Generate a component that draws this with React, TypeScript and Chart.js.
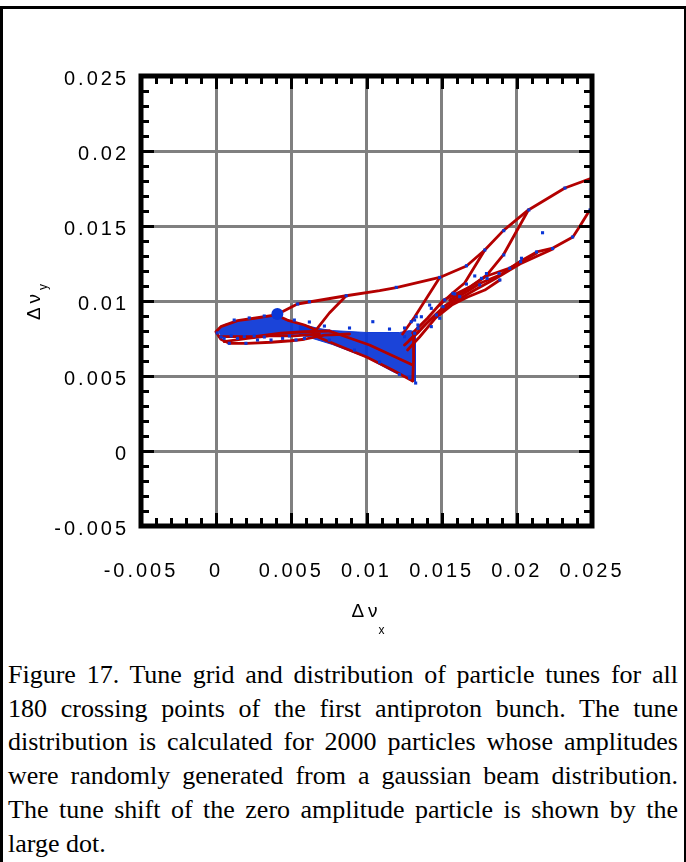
import { useEffect, useRef } from 'react';
import { Chart, registerables } from 'chart.js';
Chart.register(...registerables);

type P = [number, number];

const xTickLabels = ['-0.005', '0', '0.005', '0.01', '0.015', '0.02', '0.025'];
const yTickLabels = ['-0.005', '0', '0.005', '0.01', '0.015', '0.02', '0.025'];
const axisMin = -0.005;
const axisMax = 0.025;
const majorStep = 0.005;
const minorStep = 0.001;
const xTitle = 'Δν';
const xTitleSub = 'x';
const yTitle = 'Δν';
const yTitleSub = 'y';

// tune shift of the zero amplitude particle (large dot)
const zeroAmplitudeTune: P = [0.00407, 0.00913];

// tune footprint grid lines (red)
const footprintUpper: P[] = [
  [0.00398, 0.00907], [0.0054, 0.0098], [0.00865, 0.01035], [0.01087, 0.01069], [0.01198, 0.01089],
  [0.01487, 0.01157], [0.01665, 0.01233], [0.01787, 0.0134], [0.0191, 0.01469], [0.02077, 0.01607],
  [0.0232, 0.01753], [0.025, 0.0182], [0.02553, 0.0184],
];
const footprintSpurB: P[] = [[0.00865, 0.01035], [0.00753, 0.0092], [0.00665, 0.00807]];
const footprintSpurD: P[] = [[0.01487, 0.01157], [0.0132, 0.00893], [0.0124, 0.0078]];
const footprintSpurE: P[] = [[0.01787, 0.0134], [0.01653, 0.0112], [0.01573, 0.01053], [0.01487, 0.00973]];
const footprintSpurF: P[] = [[0.02077, 0.01607], [0.0191, 0.01307], [0.018, 0.01173], [0.01687, 0.01093], [0.01553, 0.01007]];
const footprintBundle1: P[] = [
  [0.01253, 0.00707], [0.0134, 0.00787], [0.0142, 0.00873], [0.0152, 0.00967], [0.0162, 0.01033],
  [0.0176, 0.0112], [0.01887, 0.01173], [0.02027, 0.01267], [0.02133, 0.01327], [0.0224, 0.01353],
  [0.02373, 0.01427], [0.0242, 0.015], [0.02473, 0.01587], [0.02553, 0.01687],
];
const footprintBundle2: P[] = [
  [0.01287, 0.0074], [0.01387, 0.0084], [0.01487, 0.00927], [0.01607, 0.01007], [0.0172, 0.01073],
  [0.01853, 0.01147], [0.0202, 0.01247], [0.0224, 0.01347],
];
const footprintBundle3: P[] = [
  [0.01307, 0.00787], [0.01407, 0.00887], [0.01513, 0.01007], [0.01593, 0.01047], [0.01687, 0.01093],
  [0.018, 0.01167], [0.01953, 0.0122], [0.02133, 0.0132],
];
const footprintBundle4: P[] = [
  [0.01273, 0.00673], [0.01353, 0.0076], [0.0146, 0.00887], [0.01567, 0.00973], [0.01673, 0.01027],
  [0.01787, 0.01073], [0.01887, 0.0114],
];
const footprintLobeOuter: P[] = [
  [0.00665, 0.00807], [0.00587, 0.0084], [0.00473, 0.00873], [0.00398, 0.00907], [0.00253, 0.00885],
  [0.00142, 0.00869], [0.00031, 0.00829], [-0.00002, 0.00795], [0.00031, 0.00745], [0.00087, 0.00718],
  [0.00207, 0.00718], [0.00365, 0.00725], [0.00498, 0.00735], [0.00587, 0.00745], [0.0072, 0.00773],
  [0.00887, 0.0078],
];
const footprintLobeInner1: P[] = [[0.0002, 0.00762], [0.00253, 0.00762], [0.00431, 0.00785], [0.00587, 0.00795], [0.00753, 0.008]];
const footprintLobeInner2: P[] = [[0.00053, 0.00729], [0.00207, 0.00751], [0.00353, 0.00767], [0.0052, 0.00767], [0.00687, 0.0078]];
const footprintTriLower: P[] = [[0.0066, 0.00767], [0.0082, 0.007], [0.01, 0.00627], [0.01173, 0.0054], [0.01307, 0.00467]];
const footprintTriRight: P[] = [[0.01307, 0.00467], [0.01313, 0.00607], [0.01313, 0.00787]];
const footprintTriMid: P[] = [[0.00753, 0.008], [0.0102, 0.00707], [0.01307, 0.00573]];

const footprintLines: P[][] = [
  footprintUpper, footprintSpurB, footprintSpurD, footprintSpurE, footprintSpurF,
  footprintBundle1, footprintBundle2, footprintBundle3, footprintBundle4,
  footprintLobeOuter, footprintLobeInner1, footprintLobeInner2,
  footprintTriLower, footprintTriRight, footprintTriMid,
];

// outlines of the densely populated particle tune regions
const denseLobe: P[] = [
  [0.0001, 0.0081], [0.00053, 0.00842], [0.00153, 0.0087], [0.0026, 0.00883], [0.00367, 0.00896],
  [0.00453, 0.00876], [0.00553, 0.0085], [0.0066, 0.00822], [0.0066, 0.00795], [0.00553, 0.0078],
  [0.00433, 0.00772], [0.00287, 0.00765], [0.00153, 0.00758], [0.00033, 0.00765],
];
const denseTriangle: P[] = [
  [0.00553, 0.00836], [0.00773, 0.00803], [0.01, 0.0079], [0.0122, 0.0079], [0.01287, 0.00803],
  [0.01325, 0.00796], [0.01325, 0.00463], [0.01307, 0.0047], [0.01173, 0.0053], [0.01, 0.00624],
  [0.00773, 0.0071], [0.0062, 0.00757], [0.00553, 0.00777],
];

// individual particle tunes (blue)
const particleTunes: P[] = [
  [0.00542, 0.0098], [0.00865, 0.01035], [0.01198, 0.01091], [0.01487, 0.01157], [0.01665, 0.01235],
  [0.01787, 0.0134], [0.01913, 0.01469], [0.0208, 0.01607], [0.0232, 0.01753], [0.02487, 0.01607],
  [0.02171, 0.01455], [0.01042, 0.00862], [0.0062, 0.00995],
  [0.02371, 0.01427], [0.02238, 0.0135], [0.02131, 0.01327], [0.02031, 0.01285], [0.02025, 0.01262],
  [0.01953, 0.01218], [0.01913, 0.01307], [0.01798, 0.01183], [0.01882, 0.01183], [0.01765, 0.01151],
  [0.0172, 0.01167], [0.01753, 0.01107], [0.01802, 0.01151], [0.01887, 0.0114], [0.01665, 0.01113],
  [0.01587, 0.01047], [0.0162, 0.01029], [0.01575, 0.01051], [0.0152, 0.01007], [0.0142, 0.00973],
  [0.01509, 0.00962], [0.01431, 0.00951], [0.01465, 0.00907], [0.01487, 0.00885], [0.01331, 0.00895],
  [0.01365, 0.00895], [0.01298, 0.00862], [0.01431, 0.00829], [0.01342, 0.00818], [0.0132, 0.00785],
  [0.01253, 0.00762], [0.0132, 0.00873], [0.01342, 0.0084],
  [0.00087, 0.00718], [0.00198, 0.00718], [0.00275, 0.0074], [0.00442, 0.00751], [0.00531, 0.0074],
  [0.00587, 0.00751], [0.00053, 0.00751], [0.00142, 0.00751], [0.00365, 0.0074], [0.00253, 0.00767],
  [0.0032, 0.0076], [0.001, 0.00767], [0.00187, 0.00763], [0.00487, 0.00767], [0.00007, 0.00787],
  [0.00033, 0.0076],
  [0.0032, 0.009], [0.0022, 0.00887], [0.0012, 0.00873], [0.0052, 0.00873], [0.0062, 0.0086],
  [0.0072, 0.00833],
  [0.00887, 0.0082], [0.01153, 0.00813], [0.01253, 0.0082], [0.0122, 0.0051], [0.01287, 0.00487],
  [0.01087, 0.00593], [0.0092, 0.00673], [0.00753, 0.0074], [0.01327, 0.00453],
];

const captionLines = [
  'Figure 17. Tune grid and distribution of particle tunes for all',
  '180 crossing points of the first antiproton bunch. The tune',
  'distribution is calculated for 2000 particles whose amplitudes',
  'were randomly generated from a gaussian beam distribution.',
  'The tune shift of the zero amplitude particle is shown by the',
  'large dot.',
];

const RED = '#b30000';
const BLUE = '#0a36d6';
const BLUE_FILL = 'rgba(10,54,214,0.93)';
const GRID = '#808080';
const FONT = '"Liberation Sans", Arial, sans-serif';

const framePlugin = {
  id: 'frameAndTitles',
  beforeDraw(chart: any) {
    chart.ctx.letterSpacing = '3px';
  },
  afterDraw(chart: any) {
    const ctx = chart.ctx as CanvasRenderingContext2D;
    const { left, right, top, bottom } = chart.chartArea;
    const xs = chart.scales.x;
    const ys = chart.scales.y;
    ctx.save();
    ctx.strokeStyle = '#000';
    ctx.lineWidth = 3;
    ctx.lineCap = 'butt';
    const n = Math.round((axisMax - axisMin) / minorStep);
    const ratio = Math.round(majorStep / minorStep);
    ctx.beginPath();
    for (let i = 1; i < n; i++) {
      const v = axisMin + i * minorStep;
      const len = i % ratio === 0 ? 13 : 8;
      const px = Math.round(xs.getPixelForValue(v)) + 0.5;
      const py = Math.round(ys.getPixelForValue(v)) + 0.5;
      ctx.moveTo(px, top); ctx.lineTo(px, top + len);
      ctx.moveTo(px, bottom); ctx.lineTo(px, bottom - len);
      ctx.moveTo(left, py); ctx.lineTo(left + len, py);
      ctx.moveTo(right, py); ctx.lineTo(right - len, py);
    }
    ctx.stroke();
    ctx.lineWidth = 5;
    ctx.strokeRect(left, top, right - left, bottom - top);

    ctx.fillStyle = '#000';
    (ctx as any).letterSpacing = '4px';
    ctx.textBaseline = 'alphabetic';
    ctx.textAlign = 'center';
    const cx = (left + right) / 2;
    ctx.font = `19px ${FONT}`;
    ctx.fillText(xTitle, cx, bottom + 91);
    ctx.font = `12px ${FONT}`;
    ctx.fillText(xTitleSub, cx + 17, bottom + 108);

    ctx.translate(left - 101, (top + bottom) / 2 + 4);
    ctx.rotate(-Math.PI / 2);
    ctx.font = `19px ${FONT}`;
    ctx.fillText(yTitle, 0, 0);
    ctx.font = `12px ${FONT}`;
    ctx.fillText(yTitleSub, 20, 7);
    ctx.restore();
  },
};

export default function App() {
  const ref = useRef<HTMLCanvasElement>(null);
  useEffect(() => {
    const toXY = (pts: P[]) => pts.map(([x, y]) => ({ x, y }));
    const datasets: any[] = [];
    datasets.push({
      data: toXY([zeroAmplitudeTune]),
      pointRadius: 6,
      pointStyle: 'circle',
      backgroundColor: BLUE,
      borderWidth: 0,
      showLine: false,
      order: 0,
    });
    datasets.push({
      data: toXY(particleTunes),
      pointStyle: 'rect',
      pointRadius: 2.2,
      backgroundColor: BLUE,
      borderWidth: 0,
      showLine: false,
      order: 1,
    });
    footprintLines.forEach((l) =>
      datasets.push({
        data: toXY(l),
        showLine: true,
        borderColor: RED,
        borderWidth: 2.8,
        borderJoinStyle: 'round',
        borderCapStyle: 'round',
        pointRadius: 0,
        fill: false,
        tension: 0,
        order: 2,
      })
    );
    [denseLobe, denseTriangle].forEach((c) =>
      datasets.push({
        data: toXY([...c, c[0]]),
        showLine: true,
        fill: 'shape',
        backgroundColor: BLUE_FILL,
        borderColor: BLUE_FILL,
        borderWidth: 1,
        pointRadius: 0,
        tension: 0,
        order: 3,
      })
    );

    const chart = new Chart(ref.current!, {
      type: 'scatter',
      data: { datasets },
      plugins: [framePlugin],
      options: {
        animation: false,
        responsive: false,
        events: [],
        layout: { padding: { left: 0, top: 76, right: 94, bottom: 0 } },
        plugins: { legend: { display: false }, tooltip: { enabled: false } },
        scales: {
          x: {
            type: 'linear',
            min: axisMin,
            max: axisMax,
            afterFit: (s: any) => { s.height = 124; },
            afterBuildTicks: (s: any) => {
              s.ticks = xTickLabels.map((_, i) => ({ value: axisMin + i * majorStep }));
            },
            ticks: {
              autoSkip: false,
              maxRotation: 0,
              padding: 33,
              color: '#000',
              font: { family: FONT, size: 20 },
              callback: (_v: any, i: number) => xTickLabels[i],
            },
            grid: { color: GRID, lineWidth: 3, drawTicks: false },
            border: { display: false },
          },
          y: {
            type: 'linear',
            min: axisMin,
            max: axisMax,
            afterFit: (s: any) => { s.width = 141; },
            afterBuildTicks: (s: any) => {
              s.ticks = yTickLabels.map((_, i) => ({ value: axisMin + i * majorStep }));
            },
            ticks: {
              autoSkip: false,
              padding: 12,
              labelOffset: 3,
              color: '#000',
              font: { family: FONT, size: 20 },
              callback: (_v: any, i: number) => yTickLabels[i],
            },
            grid: { color: GRID, lineWidth: 3, drawTicks: false },
            border: { display: false },
          },
        },
      } as any,
    });
    return () => chart.destroy();
  }, []);

  return (
    <div style={{ position: 'absolute', left: 0, top: 0, width: 686, height: 862, background: '#fff', overflow: 'hidden' }}>
      <div
        style={{
          position: 'absolute', left: 0, top: 6, width: 686, height: 860, boxSizing: 'border-box',
          borderLeft: '3px solid #000', borderTop: '3px solid #000', borderRight: '2px solid #000',
        }}
      />
      <canvas ref={ref} width={686} height={650} style={{ position: 'absolute', left: 0, top: 0, width: 686, height: 650 }} />
      <div
        style={{
          position: 'absolute', left: 8, top: 658, width: 670,
          fontFamily: '"Liberation Serif", "Times New Roman", serif', fontSize: 26, lineHeight: '33.7px', color: '#000',
        }}
      >
        {captionLines.map((t, i) => (
          <div
            key={i}
            style={{ whiteSpace: 'nowrap', overflow: 'visible', textAlign: i < captionLines.length - 1 ? 'justify' : 'left', textAlignLast: i < captionLines.length - 1 ? 'justify' : 'left' } as any}
          >
            {t}
          </div>
        ))}
      </div>
    </div>
  );
}
